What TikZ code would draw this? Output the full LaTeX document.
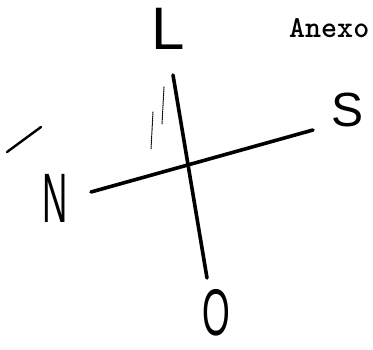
\documentclass[tikz,border=0pt]{standalone}
\usepackage{fontspec}
\setmainfont{Liberation Sans}

\begin{document}
\begin{tikzpicture}[x=1pt,y=-1pt,line cap=round,
  hand/.style={inner sep=0pt,font=\fontsize{#1}{#1}\selectfont},
  stroke/.style={line width=3.6pt}]
\useasboundingbox (0,0) rectangle (373,350); \clip (0,0) rectangle (373,350);
\node[anchor=base west,inner sep=0pt,font=\ttfamily\bfseries\fontsize{30.5}{30.5}\selectfont] (anexo) at (289,38){Anexo};
\node[hand=60] (leste) at (168,29){L}; \node[hand=48] (sul) at (348,110){S};
\node[hand=70,xscale=0.5] (norte) at (55,198){N}; \node[hand=66,xscale=0.54] (oeste) at (216,313){O};
\coordinate (lEnd) at (173,75); \coordinate (oEnd) at (207,278);
\coordinate (nEnd) at (91,192); \coordinate (sEnd) at (313,130);
\draw[stroke] (lEnd)--(oEnd); \draw[stroke] (nEnd)--(sEnd);
% marks on the sheet
\coordinate (m1) at (7,152); \coordinate (m2) at (41,127);
\draw[line width=2.4pt] (m1)--(m2);
\foreach \a/\b in {164/87,153/112}{\draw[line width=1pt,densely dotted] (\a,\b)--++(-2,37);}
\end{tikzpicture}
\end{document}
